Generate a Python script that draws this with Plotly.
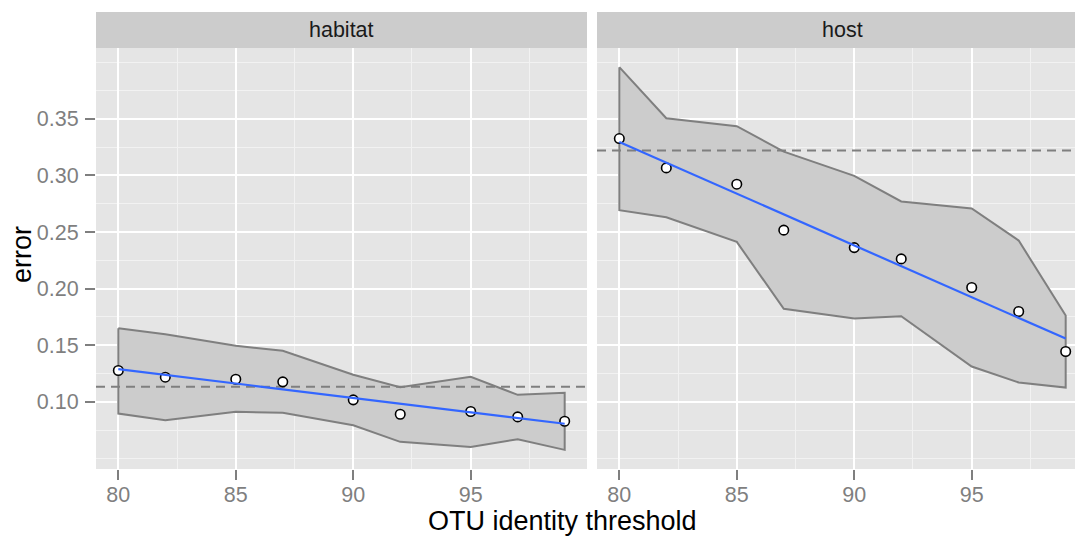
import numpy as np
import plotly.graph_objects as go

# OTU identity thresholds (shared by both facets)
threshold = [80, 82, 85, 87, 90, 92, 95, 97, 99]

# habitat facet: mean error and the band around it
habitat_error = [0.1277, 0.1218, 0.1200, 0.1177, 0.1018, 0.0891, 0.0915, 0.0867, 0.0829]
habitat_upper = [0.1651, 0.1598, 0.1495, 0.1451, 0.1239, 0.1130, 0.1221, 0.1062, 0.1080]
habitat_lower = [0.0897, 0.0838, 0.0912, 0.0903, 0.0794, 0.0647, 0.0602, 0.0670, 0.0576]
habitat_baseline = 0.1133

# host facet
host_error = [0.3326, 0.3067, 0.2923, 0.2517, 0.2363, 0.2263, 0.2010, 0.1798, 0.1445]
host_upper = [0.3957, 0.3506, 0.3435, 0.3211, 0.2996, 0.2770, 0.2708, 0.2425, 0.1763]
host_lower = [0.2693, 0.2631, 0.2413, 0.1822, 0.1736, 0.1757, 0.1312, 0.1171, 0.1126]
host_baseline = 0.3220

facet_names = ["habitat", "host"]
x_tick_vals = [80, 85, 90, 95]
x_minor_vals = [82.5, 87.5, 92.5, 97.5]
y_tick_vals = [0.10, 0.15, 0.20, 0.25, 0.30, 0.35]
y_minor_vals = [0.05, 0.075, 0.125, 0.175, 0.225, 0.275, 0.325, 0.375, 0.40]

FONT = "Liberation Sans, Arial, Helvetica, sans-serif"
GREY50 = "#7F7F7F"
W, H = 1075, 536
ML, MR, MT, MB = 96, 0, 48, 67
plot_w = W - ML - MR
plot_h = H - MT - MB

# ggplot-style 5% expansion of the data range
x_lo, x_hi = min(threshold), max(threshold)
x_pad = 0.05 * (x_hi - x_lo)
x_range = [x_lo - x_pad, x_hi + x_pad]
all_lo = min(habitat_lower + host_lower)
all_hi = max(habitat_upper + host_upper)
y_pad = 0.05 * (all_hi - all_lo)
y_range = [all_lo - y_pad, all_hi + y_pad]

panel_px = 491
gap_px = 10
left_dom = [0, panel_px / plot_w]
right_dom = [(panel_px + gap_px) / plot_w, 1.0]
# the right panel is cut by the page edge, keep the same x scale
px_per_unit = panel_px / (x_range[1] - x_range[0])
right_visible = (plot_w - panel_px - gap_px) / px_per_unit
right_range = [x_range[0], x_range[0] + right_visible]

fig = go.Figure()

facets = [
    ("x", "y", habitat_error, habitat_upper, habitat_lower, habitat_baseline, x_range),
    ("x2", "y2", host_error, host_upper, host_lower, host_baseline, right_range),
]

for xa, ya, err, up, lo, base, xr in facets:
    # confidence band as a closed polygon
    fig.add_trace(go.Scatter(
        x=threshold + threshold[::-1] + [threshold[0]],
        y=up + lo[::-1] + [up[0]],
        mode="lines", fill="toself", fillcolor="#CCCCCC",
        line=dict(color=GREY50, width=2), xaxis=xa, yaxis=ya,
        hoverinfo="skip", showlegend=False,
    ))
    # reference level
    fig.add_trace(go.Scatter(
        x=[xr[0], xr[1]], y=[base, base], mode="lines",
        line=dict(color=GREY50, width=2, dash="9px,6px"),
        xaxis=xa, yaxis=ya, showlegend=False, hoverinfo="skip",
    ))
    # observed errors
    fig.add_trace(go.Scatter(
        x=threshold, y=err, mode="markers",
        marker=dict(symbol="circle", size=9.5, color="white",
                    line=dict(color="black", width=1.6)),
        xaxis=xa, yaxis=ya, showlegend=False,
    ))
    # linear trend
    slope, intercept = np.polyfit(threshold, err, 1)
    fx = np.array([threshold[0], threshold[-1]], dtype=float)
    fig.add_trace(go.Scatter(
        x=fx, y=intercept + slope * fx, mode="lines",
        line=dict(color="#3366FF", width=2.2),
        xaxis=xa, yaxis=ya, showlegend=False, hoverinfo="skip",
    ))

axis_common = dict(
    showline=False, zeroline=False,
    showgrid=True, gridcolor="white", gridwidth=2,
    ticks="outside", ticklen=10, tickwidth=2, tickcolor=GREY50,
    tickfont=dict(family=FONT, size=21.5, color=GREY50),
)

minor_grid = dict(showgrid=True, gridcolor="#F2F2F2", gridwidth=1, ticks="")

fig.update_layout(
    width=W, height=H,
    margin=dict(l=ML, r=MR, t=MT, b=MB, pad=0),
    paper_bgcolor="white", plot_bgcolor="#E5E5E5",
    font=dict(family=FONT),
    xaxis=dict(domain=left_dom, range=x_range, anchor="y",
               tickmode="array", tickvals=x_tick_vals,
               minor=dict(tickvals=x_minor_vals, **minor_grid),
               ticklabelstandoff=-4, **axis_common),
    xaxis2=dict(domain=right_dom, range=right_range, anchor="y2",
                tickmode="array", tickvals=x_tick_vals,
                minor=dict(tickvals=x_minor_vals, **minor_grid),
                ticklabelstandoff=-4, **axis_common),
    yaxis=dict(domain=[0, 1], range=y_range, anchor="x",
               tickmode="array", tickvals=y_tick_vals, tickformat=".2f",
               minor=dict(tickvals=y_minor_vals, **minor_grid),
               ticklabelstandoff=2, **axis_common),
    yaxis2=dict(domain=[0, 1], range=y_range, anchor="x2", matches="y",
                tickmode="array", tickvals=y_tick_vals,
                minor=dict(tickvals=y_minor_vals, **minor_grid),
                showgrid=True, gridcolor="white", gridwidth=2,
                zeroline=False, showticklabels=False, ticks=""),
)

# facet strips
strip_h = 36 / plot_h
shapes = []
annotations = []
for xa, name in zip(["x", "x2"], facet_names):
    shapes.append(dict(type="rect", xref=f"{xa} domain", yref="paper",
                       x0=0, x1=1, y0=1, y1=1 + strip_h,
                       fillcolor="#CCCCCC", line=dict(width=0), layer="below"))
    annotations.append(dict(text=name, xref=xa, yref="paper",
                            x=(x_range[0] + x_range[1]) / 2, y=1 + strip_h / 2,
                            xanchor="center", yanchor="middle", showarrow=False,
                            font=dict(family=FONT, size=21.5, color="#1A1A1A")))

# axis titles
annotations.append(dict(text="OTU identity threshold", xref="paper", yref="paper",
                        x=(562.5 - ML) / plot_w, y=-(521 - (MT + plot_h)) / plot_h,
                        xanchor="center", yanchor="middle", showarrow=False,
                        font=dict(family=FONT, size=27, color="black")))
annotations.append(dict(text="error", xref="paper", yref="paper",
                        x=(22 - ML) / plot_w, y=1 - (255 - MT) / plot_h,
                        xanchor="center", yanchor="middle", textangle=-90,
                        showarrow=False,
                        font=dict(family=FONT, size=27, color="black")))

fig.update_layout(shapes=shapes, annotations=annotations)

fig.write_html("out.html")
